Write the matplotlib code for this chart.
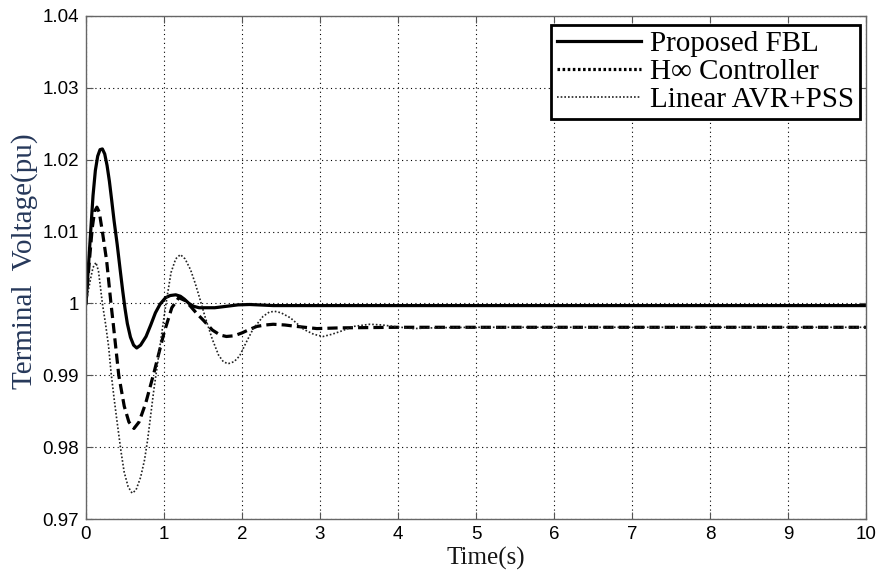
import numpy as np
import matplotlib.pyplot as plt
from matplotlib.lines import Line2D

# valori letti a occhio dal grafico di riferimento
t_fbl = [0, 0.03, 0.06, 0.09, 0.12, 0.15, 0.18, 0.21, 0.24, 0.27, 0.30, 0.33, 0.36,
         0.40, 0.44, 0.47, 0.50, 0.53, 0.57, 0.61, 0.65, 0.70, 0.77, 0.83, 0.89,
         0.95, 1.02, 1.08, 1.15, 1.21, 1.26, 1.32, 1.38, 1.45, 1.51, 1.65, 1.80,
         1.95, 2.1, 2.4, 3.0, 10]
v_fbl = [1.0, 1.005, 1.010, 1.015, 1.0185, 1.0205, 1.0214, 1.0215, 1.0208, 1.0192,
         1.0170, 1.0143, 1.0115, 1.0082, 1.0045, 1.0018, 0.9993, 0.9972, 0.9953,
         0.9942, 0.9938, 0.9942, 0.9954, 0.9970, 0.9987, 0.9999, 1.0008, 1.0011,
         1.0012, 1.0010, 1.0006, 1.0000, 0.9996, 0.9994, 0.9994, 0.9994, 0.9996,
         0.9998, 0.99985, 0.9997, 0.9997, 0.9997]

t_hinf = [0, 0.04, 0.08, 0.11, 0.14, 0.17, 0.21, 0.265, 0.32, 0.35, 0.42, 0.49,
          0.55, 0.615, 0.68, 0.765, 0.87, 1.0, 1.1, 1.19, 1.27, 1.34, 1.42, 1.51,
          1.62, 1.72, 1.80, 1.9, 2.0, 2.1, 2.19, 2.3, 2.40, 2.55, 2.70, 2.96,
          3.26, 4.0, 10]
v_hinf = [1.0, 1.0055, 1.0105, 1.0128, 1.0134, 1.0127, 1.0100, 1.0059, 1.0000,
          0.9971, 0.9900, 0.9857, 0.9835, 0.9826, 0.9835, 0.9861, 0.9903, 0.9959,
          0.9994, 1.0008, 1.0004, 0.9996, 0.9986, 0.9976, 0.9963, 0.9956, 0.9954,
          0.9955, 0.9959, 0.9964, 0.9968, 0.9970, 0.9971, 0.9970, 0.9968, 0.9965,
          0.9966, 0.99668, 0.99668]

t_pss = [0, 0.03, 0.06, 0.09, 0.128, 0.16, 0.19, 0.21, 0.25, 0.29, 0.32, 0.36,
         0.40, 0.45, 0.49, 0.54, 0.59, 0.64, 0.70, 0.75, 0.79, 0.83, 0.87, 0.92,
         0.96, 1.02, 1.09, 1.15, 1.21, 1.27, 1.34, 1.40, 1.45, 1.53, 1.62, 1.70,
         1.76, 1.82, 1.90, 1.97, 2.05, 2.14, 2.27, 2.35, 2.42, 2.50, 2.62, 2.79,
         2.92, 3.04, 3.15, 3.26, 3.43, 3.64, 3.80, 3.94, 4.19, 4.5, 5.0, 10]
v_pss = [1.0, 1.0018, 1.0035, 1.0050, 1.0057, 1.0045, 1.0018, 1.0000, 0.9972,
         0.9940, 0.9905, 0.9868, 0.9834, 0.9793, 0.9765, 0.9745, 0.9736, 0.9740,
         0.9758, 0.9782, 0.9810, 0.9845, 0.9880, 0.9918, 0.9950, 0.9996, 1.0043,
         1.0062, 1.0068, 1.0062, 1.0047, 1.0028, 1.0010, 0.9980, 0.9950, 0.9928,
         0.9919, 0.9916, 0.9919, 0.9927, 0.9945, 0.9964, 0.9982, 0.9988, 0.9989,
         0.9987, 0.9980, 0.9964, 0.9957, 0.9954, 0.9957, 0.9961, 0.9968, 0.9971,
         0.9970, 0.9968, 0.9965, 0.99662, 0.99668, 0.99668]

labels = ["Proposed FBL", "H\u221e Controller", "Linear AVR+PSS"]
xticks = np.arange(0, 11, 1)
yticks = [0.97, 0.98, 0.99, 1.0, 1.01, 1.02, 1.03, 1.04]
yticklabels = ["0.97", "0.98", "0.99", "1", "1.01", "1.02", "1.03", "1.04"]

serif = ["Liberation Serif", "DejaVu Serif"]

fig = plt.figure(figsize=(8.78, 5.77), dpi=100)
ax = fig.add_axes([86/878, 1 - 519/577, 780/878, 503/577])

ax.plot(t_fbl, v_fbl, color="black", lw=2.3, solid_joinstyle="round")
ax.plot(t_hinf, v_hinf, color="black", lw=2.3, linestyle=(0, (3.2, 1.6)))
ax.plot(t_pss, v_pss, color="#222222", lw=1.2, linestyle=(0, (1, 1.2)))

ax.set_xlim(0, 10)
ax.set_ylim(0.97, 1.04)
ax.set_xticks(xticks)
ax.set_yticks(yticks)
ax.set_yticklabels(yticklabels)
ax.grid(True, color="black", lw=0.8, linestyle=(0, (1, 3)))

for s in ax.spines.values():
    s.set_color("#666666")
    s.set_linewidth(1.0)
ax.tick_params(direction="in", top=True, right=True, length=5, color="#555555",
               labelsize=13.5, pad=5)
for lab in ax.get_xticklabels() + ax.get_yticklabels():
    lab.set_family("Liberation Sans")

ax.set_xlabel("Time(s)", family=serif, fontsize=18, color="#151515")
ax.xaxis.set_label_coords(0.513, -0.055)
ax.set_ylabel("Terminal  Voltage(pu)", family=serif, fontsize=21, color="#26385a")
ax.yaxis.set_label_coords(-0.062, 0.513)

# maniglie della legenda come nell'originale (tratteggio reso a puntini)
handles = [Line2D([], [], color="black", lw=2.3),
           Line2D([], [], color="black", lw=2.3, linestyle=(0, (0.8, 0.8))),
           Line2D([], [], color="#222222", lw=1.2, linestyle=(0, (1, 1.2)))]
leg = ax.legend(handles, labels, loc="upper right", bbox_to_anchor=(860/878, 1 - 25/577),
                bbox_transform=fig.transFigure, borderaxespad=0, fancybox=False,
                framealpha=1, edgecolor="black", prop={"family": serif, "size": 21},
                handlelength=2.9, handletextpad=0.3, labelspacing=0.05,
                borderpad=0.2)
leg.get_frame().set_linewidth(2.0)

fig.savefig("out.png", dpi=100)
